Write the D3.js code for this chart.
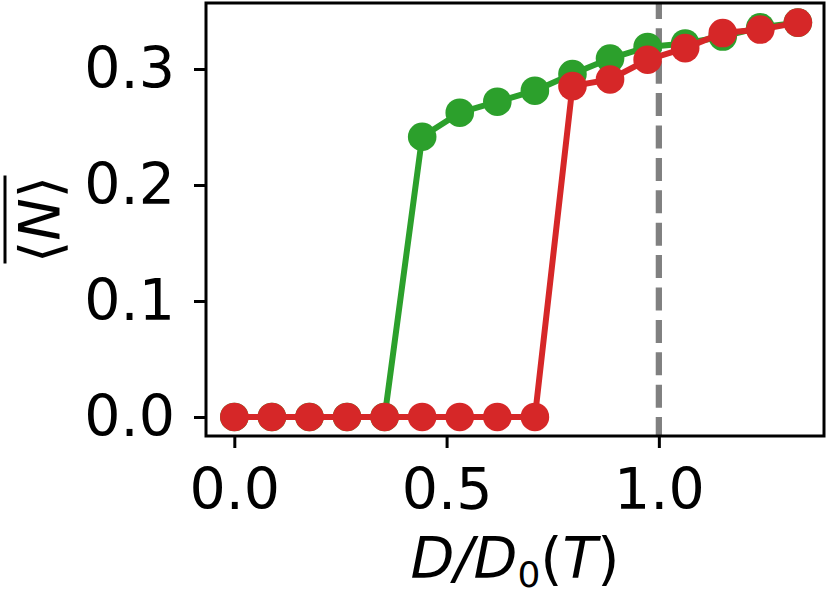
<!DOCTYPE html>
<html>
<head>
<meta charset="utf-8">
<script src="https://cdn.jsdelivr.net/npm/d3@7"></script>
<style>
  body { margin: 0; background: #fff; }
  svg { display: block; font-family: "DejaVu Sans", sans-serif; }
</style>
</head>
<body>
<div id="app"></div>
<script>
const ratio = [0, 0.0885, 0.177, 0.2655, 0.354, 0.4425, 0.531, 0.6195, 0.708, 0.7965, 0.885, 0.9735, 1.062, 1.1505, 1.239, 1.3275];
const greenN = [0, 0, 0, 0, 0, 0.2416, 0.2623, 0.2718, 0.2813, 0.2957, 0.309, 0.319, 0.322, 0.328, 0.336, 0.340];
const redN = [0, 0, 0, 0, 0, 0, 0, 0, 0, 0.2853, 0.291, 0.308, 0.318, 0.331, 0.334, 0.340];
const xTicks = [0, 0.5, 1.0];
const yTicks = [0, 0.1, 0.2, 0.3];
const refLine = 1.0;

const chart = () => {
  const width = 829;
  const height = 597;
  const left = 206, right = 824, top = 3, bottom = 436;

  const x = d3.scaleLinear().domain([-0.0667, 1.389]).range([left, right]);
  const y = d3.scaleLinear().domain([-0.0164, 0.3569]).range([bottom, top]);

  const svg = d3.create("svg").attr("width", width).attr("height", height);
  svg.append("rect").attr("width", width).attr("height", height).attr("fill", "#fff");

  // reference line at D = D0
  svg.append("line")
    .attr("x1", x(refLine)).attr("x2", x(refLine))
    .attr("y1", top).attr("y2", bottom)
    .attr("stroke", "#808080")
    .attr("stroke-width", 6.25)
    .attr("stroke-dasharray", "23,9.4")
    .attr("stroke-dashoffset", 7.1);

  const line = d3.line().x((d) => x(d[0])).y((d) => y(d[1]));

  const series = [
    { vals: greenN, color: "#2ca02c" },
    { vals: redN, color: "#d62728" }
  ];

  series.forEach((s) => {
    const pts = ratio.map((r, i) => [r, s.vals[i]]);
    const g = svg.append("g");
    g.append("path")
      .attr("d", line(pts))
      .attr("fill", "none")
      .attr("stroke", s.color)
      .attr("stroke-width", 6);
    g.selectAll("circle")
      .data(pts)
      .enter()
      .append("circle")
      .attr("cx", (d) => x(d[0]))
      .attr("cy", (d) => y(d[1]))
      .attr("r", 14.3)
      .attr("fill", s.color);
  });

  // frame
  svg.append("rect")
    .attr("x", left).attr("y", top)
    .attr("width", right - left).attr("height", bottom - top)
    .attr("fill", "none")
    .attr("stroke", "#000")
    .attr("stroke-width", 3);

  const xAxis = svg.append("g")
    .attr("transform", `translate(0,${bottom})`)
    .call(d3.axisBottom(x).tickValues(xTicks).tickFormat(d3.format(".1f")).tickSize(12).tickPadding(21));
  const yAxis = svg.append("g")
    .attr("transform", `translate(${left},0)`)
    .call(d3.axisLeft(y).tickValues(yTicks).tickFormat(d3.format(".1f")).tickSize(12).tickPadding(19));

  [xAxis, yAxis].forEach((a) => {
    a.select(".domain").remove();
    a.selectAll("line").attr("stroke", "#000").attr("stroke-width", 3);
    a.selectAll("text")
      .attr("fill", "#000")
      .style("font-family", "DejaVu Sans")
      .style("font-size", "57px");
  });

  // x label
  const xl = svg.append("text")
    .attr("x", (left + right) / 2)
    .attr("y", 578)
    .attr("text-anchor", "middle")
    .style("font-size", "57px")
    .attr("fill", "#000");
  xl.append("tspan").style("font-style", "italic").text("D/D");
  xl.append("tspan").style("font-size", "36px").attr("dy", 9).text("0");
  xl.append("tspan").attr("dy", -9).text("(");
  xl.append("tspan").style("font-style", "italic").text("T");
  xl.append("tspan").text(")");

  // y label
  const yl = svg.append("g").attr("transform", `translate(60,${(top + bottom) / 2}) rotate(-90)`);
  yl.append("text")
    .attr("text-anchor", "middle")
    .style("font-size", "57px")
    .attr("fill", "#000")
    .call((t) => {
      t.append("tspan").text("\u27E8");
      t.append("tspan").style("font-style", "italic").text("N");
      t.append("tspan").text("\u27E9");
    });
  yl.append("line")
    .attr("x1", -44).attr("x2", 44)
    .attr("y1", -55).attr("y2", -55)
    .attr("stroke", "#000")
    .attr("stroke-width", 3);

  return svg.node();
};

d3.select("#app").append(chart);
</script>
</body>
</html>
